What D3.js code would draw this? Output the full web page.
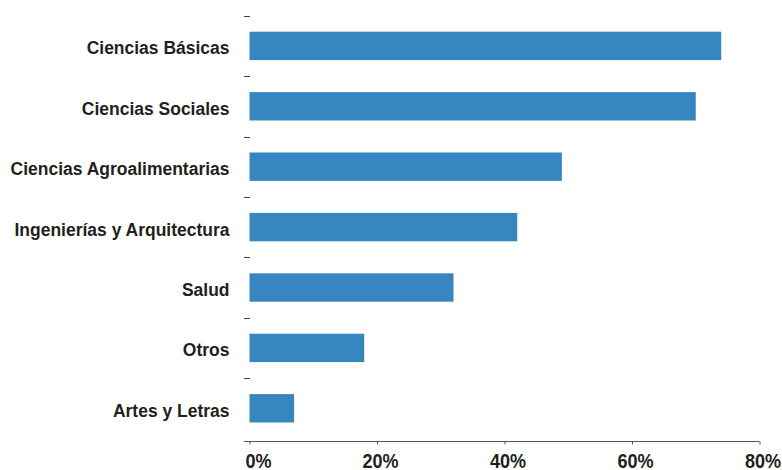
<!DOCTYPE html>
<html><head><meta charset="utf-8">
<script src="https://cdn.jsdelivr.net/npm/d3@7"></script>
<style>
body{margin:0;background:#fff;}
text{font-family:"Liberation Sans",Arial,sans-serif;font-weight:bold;fill:#231f20;}
</style></head>
<body><svg id="c" width="782" height="470"></svg>
<script>
const categories = ["Ciencias Básicas","Ciencias Sociales","Ciencias Agroalimentarias","Ingenierías y Arquitectura","Salud","Otros","Artes y Letras"];
const values = [74, 70, 49, 42, 32, 18, 7];
const xTicks = [0, 20, 40, 60, 80];

const svg = d3.select("#c");
const x = d3.scaleLinear().domain([0, 80]).range([249.5, 759.5]);
const y = d3.scaleBand().domain(categories).range([15.7, 438.5]).paddingInner(0.53).paddingOuter(0.265);

// bars
svg.selectAll("rect.bar").data(categories).join("rect")
  .attr("class","bar")
  .attr("x", x(0))
  .attr("y", d => y(d))
  .attr("width", (d,i) => x(values[i]) - x(0))
  .attr("height", y.bandwidth())
  .attr("fill", "#3886c0");

// y ticks at band starts
const step = y.step();
svg.selectAll("line.yt").data(categories).join("line")
  .attr("class","yt")
  .attr("x1", 244).attr("x2", 250)
  .attr("y1", d => Math.round(y(d) - step*0.265) + 0.5).attr("y2", d => Math.round(y(d) - step*0.265) + 0.5)
  .attr("stroke", "#444").attr("stroke-width", 1);

// y labels (condensed by horizontal scaling)
const fs = 19;
const probe = svg.append("text").attr("font-size", fs).text("Ciencias Agroalimentarias");
const k = 219 / probe.node().getComputedTextLength();
probe.remove();
svg.selectAll("g.yl").data(categories).join("g")
  .attr("class","yl")
  .attr("transform", d => `translate(229.5,${y(d) + y.bandwidth()/2 + 1.8}) scale(${k},1)`)
  .append("text")
  .attr("dy", "0.35em")
  .attr("text-anchor","end")
  .attr("font-size", fs)
  .text(d => d);

// x axis
const xAxis = d3.axisBottom(x).tickValues(xTicks).tickFormat(d => d + "%").tickSize(3).tickSizeOuter(0);
const gx = svg.append("g").attr("transform","translate(0,441.5)").call(xAxis);
gx.select(".domain").attr("d", `M244,0H${x(80)}`).attr("stroke","#555");
gx.selectAll(".tick line").attr("stroke","#555");
gx.selectAll(".tick text").each(function(d){
  const t = d3.select(this);
  const dx = d === 0 ? 8.5 : 3;
  t.attr("fill","#231f20")
   .attr("font-size", 21)
   .attr("font-family", null)
   .attr("x", null).attr("y", null).attr("dy", null)
   .attr("transform", `translate(${dx},26.8) scale(0.86,1)`);
});
</script></body></html>
